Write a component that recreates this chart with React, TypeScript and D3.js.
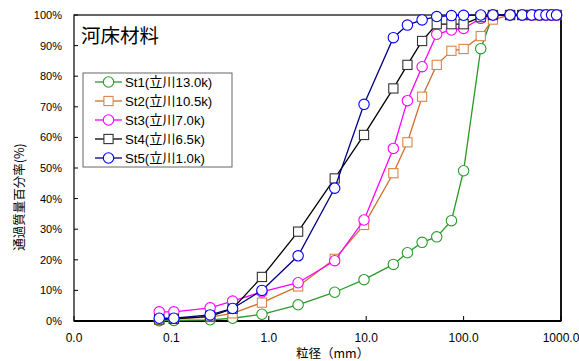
import React from "react";
import * as d3 from "d3";

const sizes = [0.075, 0.106, 0.25, 0.425, 0.85, 2, 4.75, 9.5, 19, 26.5, 37.5, 53, 75, 100, 150, 200, 300, 400, 500, 600, 700, 800, 900];
const st1 = [0.1, 0.2, 0.4, 0.9, 2.2, 5.3, 9.4, 13.5, 18.5, 22.3, 25.7, 27.5, 32.8, 49.1, 89.0, 100, 100, 100, 100, 100, 100, 100, 100];
const st2 = [0.5, 0.7, 1.3, 2.5, 6.0, 11.3, 20.3, 31.4, 48.3, 58.4, 73.3, 83.7, 88.3, 88.9, 93.1, 98.5, 100, 100, 100, 100, 100, 100, 100];
const st3 = [3.0, 3.0, 4.3, 6.5, 9.5, 12.5, 19.7, 33.0, 56.4, 72.0, 83.1, 93.7, 95.1, 95.6, 98.9, 100, 100, 100, 100, 100, 100, 100, 100];
const st4 = [0.5, 0.7, 1.5, 4.0, 14.4, 29.2, 46.6, 60.8, 76.0, 83.7, 91.5, 97.0, 97.0, 97.0, 99.3, 100, 100, 100, 100, 100, 100, 100, 100];
const st5 = [0.9, 0.9, 2.0, 4.1, 10.0, 21.3, 43.4, 70.8, 92.6, 96.7, 98.4, 99.5, 99.8, 99.9, 100, 100, 100, 100, 100, 100, 100, 100, 100];
const seriesNames = ["St1(立川13.0k)", "St2(立川10.5k)", "St3(立川7.0k)", "St4(立川6.5k)", "St5(立川1.0k)"];
const xTicks = [0.01, 0.1, 1, 10, 100, 1000];
const yTicks = [0, 10, 20, 30, 40, 50, 60, 70, 80, 90, 100];

const styles = [
  { line: "#2a9a2a", marker: "#2a9a2a", shape: "circle" },
  { line: "#cf6f2e", marker: "#d9864a", shape: "square" },
  { line: "#ff00ff", marker: "#ff00ff", shape: "circle" },
  { line: "#000000", marker: "#333333", shape: "square" },
  { line: "#000080", marker: "#0000ff", shape: "circle" },
];

const L = 74, R = 561, T = 15, B = 321;
const FONT = "'Liberation Sans', Arial, 'Noto Sans CJK JP', sans-serif";
const JFONT = "'Noto Sans CJK JP', 'Liberation Sans', sans-serif";

function Marker({ shape, x, y, color }: { shape: string; x: number; y: number; color: string }) {
  if (shape === "circle") return <circle cx={x} cy={y} r={5.2} fill="#fff" stroke={color} strokeWidth={1.1} />;
  return <rect x={x - 4.6} y={y - 4.6} width={9.2} height={9.2} fill="#fff" stroke={color} strokeWidth={1.1} />;
}

export default function App() {
  const x = d3.scaleLog().domain([0.01, 1000]).range([L, R]);
  const y = d3.scaleLinear().domain([0, 100]).range([B, T]);
  const all = [st1, st2, st3, st4, st5];
  const line = d3.line<number>().x((_, i) => x(sizes[i])).y((v) => y(v));
  const fmt = d3.format(".1f");
  return (
    <svg width={579} height={361} style={{ position: "absolute", left: 0, top: 0, background: "#fff" }}>
      <rect x={0} y={0} width={579} height={361} fill="#fff" />
      {yTicks.map((t) => (
        <g key={"y" + t}>
          <line x1={L} x2={L + 4} y1={y(t)} y2={y(t)} stroke="#000" strokeWidth={1} />
          <text x={62} y={y(t) + 4} textAnchor="end" fontSize={11} fontFamily={FONT} fill="#000">{t + "%"}</text>
        </g>
      ))}
      {xTicks.map((t) => (
        <g key={"x" + t}>
          <line x1={x(t)} x2={x(t)} y1={B} y2={B - 5} stroke="#000" strokeWidth={1} />
          <text x={x(t)} y={342} textAnchor="middle" fontSize={12} fontFamily={FONT} fill="#000">{fmt(t)}</text>
        </g>
      ))}
      <rect x={L} y={T} width={R - L} height={B - T} fill="none" stroke="#000" strokeWidth={1.2} />
      <line x1={L} x2={R} y1={B} y2={B} stroke="#000" strokeWidth={2} />
      <line x1={R} x2={R} y1={T} y2={B} stroke="#000" strokeWidth={1.6} />
      {all.map((vals, si) => (
        <g key={"s" + si}>
          <path d={line(vals) || ""} fill="none" stroke={styles[si].line} strokeWidth={1.3} />
          {vals.map((v, i) => (
            <Marker key={i} shape={styles[si].shape} x={x(sizes[i])} y={y(v)} color={styles[si].marker} />
          ))}
        </g>
      ))}
      <text x={81} y={43} fontSize={19.5} fontFamily={JFONT} fill="#000">河床材料</text>
      <rect x={83} y={73} width={149} height={94} fill="#fff" stroke="#666" strokeWidth={1} />
      {seriesNames.map((name, i) => {
        const cy = 82 + i * 19;
        return (
          <g key={"l" + i}>
            <line x1={95} x2={122} y1={cy} y2={cy} stroke={styles[i].line} strokeWidth={1.3} />
            <Marker shape={styles[i].shape} x={108.5} y={cy} color={styles[i].marker} />
            <text x={125} y={cy + 5} fontSize={13.2} fontFamily={FONT} fill="#000">{name}</text>
          </g>
        );
      })}
      <text x={296} y={358} fontSize={12.5} fontFamily={JFONT} fill="#000">粒径（mm）</text>
      <text transform="translate(23.5,197) rotate(-90)" textAnchor="middle" fontSize={12.5} fontFamily={JFONT} fill="#000">通過質量百分率(%)</text>
    </svg>
  );
}
